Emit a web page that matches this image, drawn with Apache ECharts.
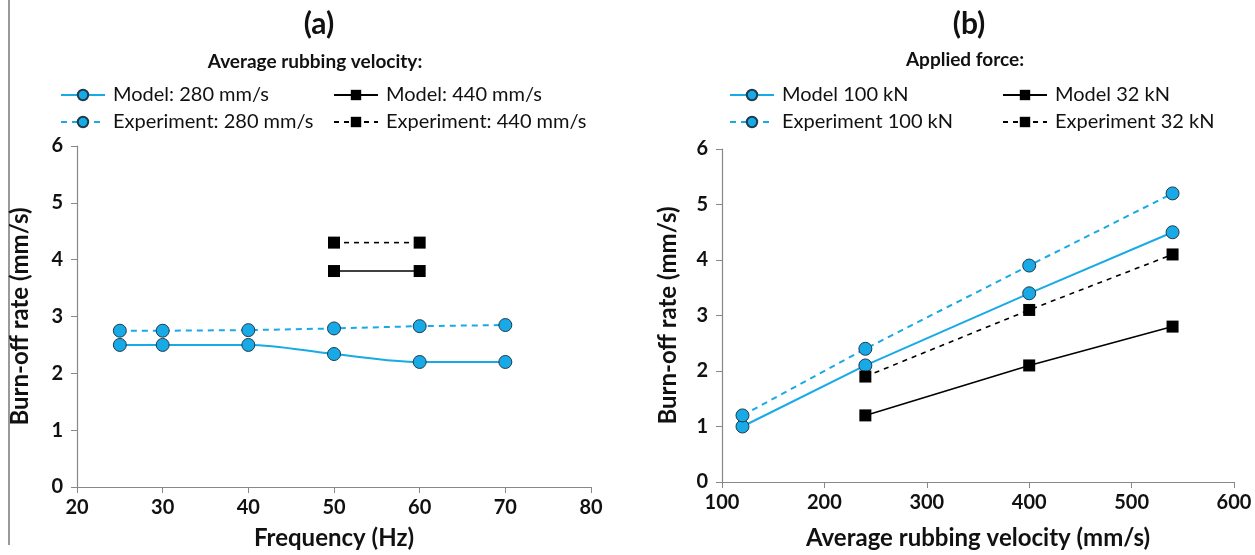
<!DOCTYPE html>
<html><head><meta charset="utf-8">
<script src="https://cdn.jsdelivr.net/npm/echarts@6/dist/echarts.min.js"></script>
<style>html,body{margin:0;padding:0;background:#fff}#c{width:1255px;height:555px}</style>
</head><body><div id="c"></div>
<script>
// Panel (a): frequency
const freqA = [25, 30, 40, 50, 60, 70];
const model280 = [2.5, 2.5, 2.5, 2.34, 2.2, 2.2];
const exp280 = [2.75, 2.75, 2.76, 2.79, 2.83, 2.85];
const freq440 = [50, 60];
const model440 = [3.8, 3.8];
const exp440 = [4.3, 4.3];
// Panel (b): rubbing velocity
const vel100 = [120, 240, 400, 540];
const model100 = [1.0, 2.1, 3.4, 4.5];
const exp100 = [1.2, 2.4, 3.9, 5.2];
const vel32 = [240, 400, 540];
const model32 = [1.2, 2.1, 2.8];
const exp32 = [1.9, 3.1, 4.1];
const yTicks = [0, 1, 2, 3, 4, 5, 6];

const BLUE = '#18aae6';
const FONT = 'Lato';
const pair = (xs, ys) => xs.map((x, i) => [x, ys[i]]);

function circleSeries(name, xi, xs, ys, dashed, smooth) {
  return {
    name, type: 'line', xAxisIndex: xi, yAxisIndex: xi, data: pair(xs, ys),
    smooth: smooth ? 0.35 : false,
    symbol: 'circle', symbolSize: 13,
    lineStyle: { color: BLUE, width: 2, type: dashed ? [6, 5] : 'solid' },
    itemStyle: { color: BLUE, borderColor: '#1f3a4a', borderWidth: 1 },
    emphasis: { disabled: true }
  };
}
function squareSeries(name, xi, xs, ys, dashed) {
  return {
    name, type: 'line', xAxisIndex: xi, yAxisIndex: xi, data: pair(xs, ys),
    symbol: 'rect', symbolSize: 12,
    lineStyle: { color: '#000', width: 1.6, type: dashed ? [5, 5] : 'solid' },
    itemStyle: { color: '#000', borderColor: '#000', borderWidth: 0 },
    emphasis: { disabled: true }
  };
}
function legendAt(name, left, cy) {
  return {
    data: [name], left, top: cy - 11, itemWidth: 44, itemHeight: 13, itemGap: 0, padding: 0,
    selectedMode: false,
    textStyle: { fontFamily: FONT, fontSize: 20, color: '#111', padding: [0, 0, 0, 3], lineHeight: 22 }
  };
}
const axisLabel = { fontFamily: FONT, fontSize: 20, fontWeight: 'bold', color: '#111', margin: 11 };
const axisName = { fontFamily: FONT, fontSize: 24, fontWeight: 'bold', color: '#111' };
function xAxis(gi, min, max, interval, name, gap) {
  return {
    type: 'value', gridIndex: gi, min, max, interval, name, nameLocation: 'middle', nameGap: gap,
    nameTextStyle: axisName,
    axisLine: { show: true, lineStyle: { color: '#888', width: 1.2 } },
    axisTick: { show: true, length: 6, lineStyle: { color: '#888' } },
    splitLine: { show: false }, axisLabel
  };
}
function yAxis(gi, gap) {
  return {
    type: 'value', gridIndex: gi, min: yTicks[0], max: yTicks[yTicks.length - 1], interval: 1,
    name: 'Burn-off rate (mm/s)', nameLocation: 'middle', nameGap: gap, nameTextStyle: axisName,
    axisLine: { show: true, lineStyle: { color: '#888', width: 1.2 } },
    axisTick: { show: true, length: 6, lineStyle: { color: '#888' } },
    splitLine: { show: false }, axisLabel: Object.assign({}, axisLabel, { margin: 14 })
  };
}
function label(text, x, y, size) {
  return { type: 'text', silent: true, style: { x, y, text, textAlign: 'center', textVerticalAlign: 'middle',
    font: 'bold ' + size + 'px ' + FONT, fill: '#111' } };
}

const chart = echarts.init(document.getElementById('c'));
chart.setOption({
  animation: false,
  legend: [
    legendAt('Model: 280 mm/s', 60, 95),
    legendAt('Experiment: 280 mm/s', 60, 122),
    legendAt('Model: 440 mm/s', 333, 95),
    legendAt('Experiment: 440 mm/s', 333, 122),
    legendAt('Model 100 kN', 729, 95),
    legendAt('Experiment 100 kN', 729, 122),
    legendAt('Model 32 kN', 1002, 95),
    legendAt('Experiment 32 kN', 1002, 122)
  ],
  grid: [
    { left: 77, right: 664, top: 146, bottom: 66 },
    { left: 722, right: 21, top: 149, bottom: 68 }
  ],
  xAxis: [
    xAxis(0, 20, 80, 10, 'Frequency (Hz)', 39),
    xAxis(1, 100, 600, 100, 'Average rubbing velocity (mm/s)', 44)
  ],
  yAxis: [yAxis(0, 45), yAxis(1, 42)],
  graphic: [
    { type: 'line', shape: { x1: 9, y1: 0, x2: 9, y2: 545 }, style: { stroke: '#777', lineWidth: 1.5 }, silent: true },
    label('(a)', 319, 24, 30),
    label('Average rubbing velocity:', 315, 62, 19),
    label('(b)', 969, 24, 30),
    label('Applied force:', 965, 60, 19)
  ],
  series: [
    circleSeries('Model: 280 mm/s', 0, freqA, model280, false, true),
    circleSeries('Experiment: 280 mm/s', 0, freqA, exp280, true, false),
    squareSeries('Model: 440 mm/s', 0, freq440, model440, false),
    squareSeries('Experiment: 440 mm/s', 0, freq440, exp440, true),
    circleSeries('Model 100 kN', 1, vel100, model100, false, false),
    circleSeries('Experiment 100 kN', 1, vel100, exp100, true, false),
    squareSeries('Model 32 kN', 1, vel32, model32, false),
    squareSeries('Experiment 32 kN', 1, vel32, exp32, true)
  ]
});
</script></body></html>
